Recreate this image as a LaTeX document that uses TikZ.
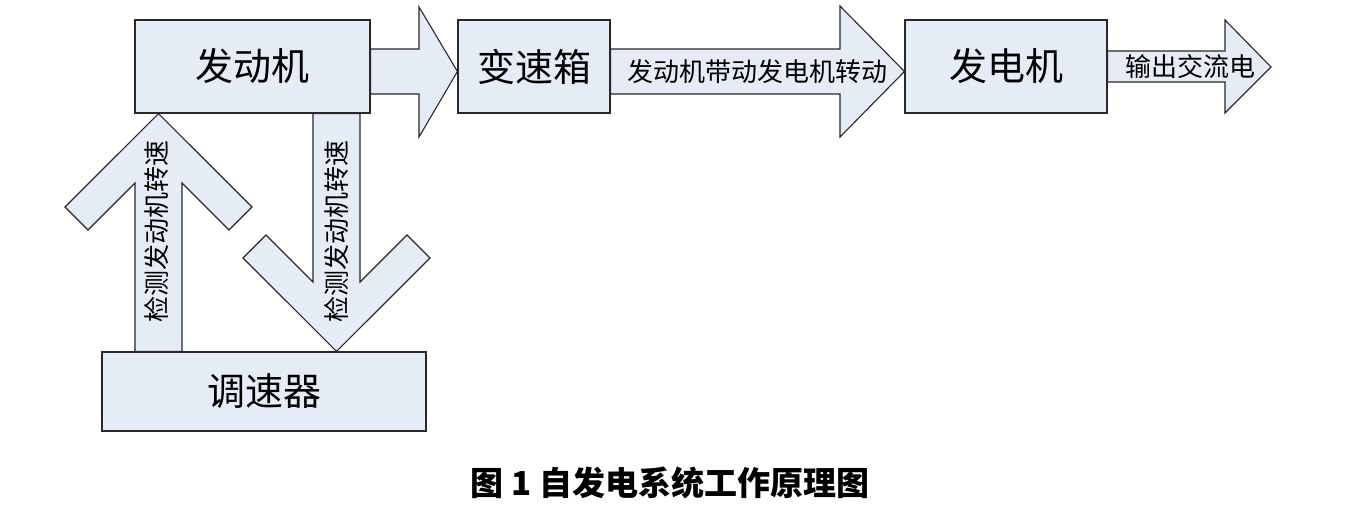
\documentclass[tikz,border=0pt]{standalone}
\usepackage{fontspec}
\setmainfont{Noto Sans CJK SC}
\usetikzlibrary{backgrounds}

\definecolor{boxfill}{RGB}{230,236,246}
\definecolor{edge}{RGB}{40,40,40}

\tikzset{
  blk/.style={draw=edge, line width=1.1pt, fill=boxfill, inner sep=0pt,
    minimum height=93pt, font=\fontsize{38}{40}\selectfont},
  blockarrow/.style={draw=edge, line width=1.1pt, fill=boxfill, line join=miter},
  lbl/.style={inner sep=0pt, font=\fontsize{26}{28}\selectfont},
}

\begin{document}
\begin{tikzpicture}[x=1pt, y=-1pt]
  \useasboundingbox (0,0) rectangle (1348,510);

  % Draw boxes
  \node[blk, minimum width=235pt] (eng) at (252.5,66.5) {发动机};
  \node[blk, minimum width=152pt] (gear) at (534,66.5) {变速箱};
  \node[blk, minimum width=202pt] (gen) at (1006,66.5) {发电机};
  \node[blk, minimum width=324pt, minimum height=79pt] (gov) at (264,391.5) {调速器};

  \begin{pgfonlayer}{background}
    % horizontal arrows
    \draw[blockarrow] (eng.east |- 0,49) -- (419,49) -- (419,7) -- (gear.west |- 0,71.5)
      -- (419,137) -- (419,94) -- (eng.east |- 0,94) -- cycle;
    \draw[blockarrow] (gear.east |- 0,49) -- (840,49) -- (840,6) -- (gen.west |- 0,71.5)
      -- (840,137) -- (840,94) -- (gear.east |- 0,94) -- cycle;
    \draw[blockarrow] (gen.east |- 0,51) -- (1225,51) -- (1225,20) -- (1271,67)
      -- (1225,113) -- (1225,82) -- (gen.east |- 0,82) -- cycle;
    % up and down arrows
    \draw[blockarrow] (135,0 |- gov.north) -- (135,183) -- (88,230) -- (65,207)
      -- (158.5,0 |- eng.south) -- (252,207) -- (229,230) -- (182,183) -- (182,0 |- gov.north) -- cycle;
    \draw[blockarrow] (313,0 |- eng.south) -- (313,282) -- (266,235) -- (243,258)
      -- (336.5,0 |- gov.north) -- (430,258) -- (407,235) -- (360,282) -- (360,0 |- eng.south) -- cycle;
  \end{pgfonlayer}

  % arrow labels
  \node[lbl] (drive) at (757,72) {发动机带动发电机转动};
  \node[lbl] (out) at (1190,67) {输出交流电};
  \node[lbl, rotate=90] (upTxt) at (157,232) {检测发动机转速};
  \node[lbl, rotate=90] (downTxt) at (336.5,232) {检测发动机转速};

  % caption
  \node[font=\fontsize{33}{35}\selectfont\bfseries] (cap) at (670,483) {图 1 自发电系统工作原理图};
\end{tikzpicture}
\end{document}
